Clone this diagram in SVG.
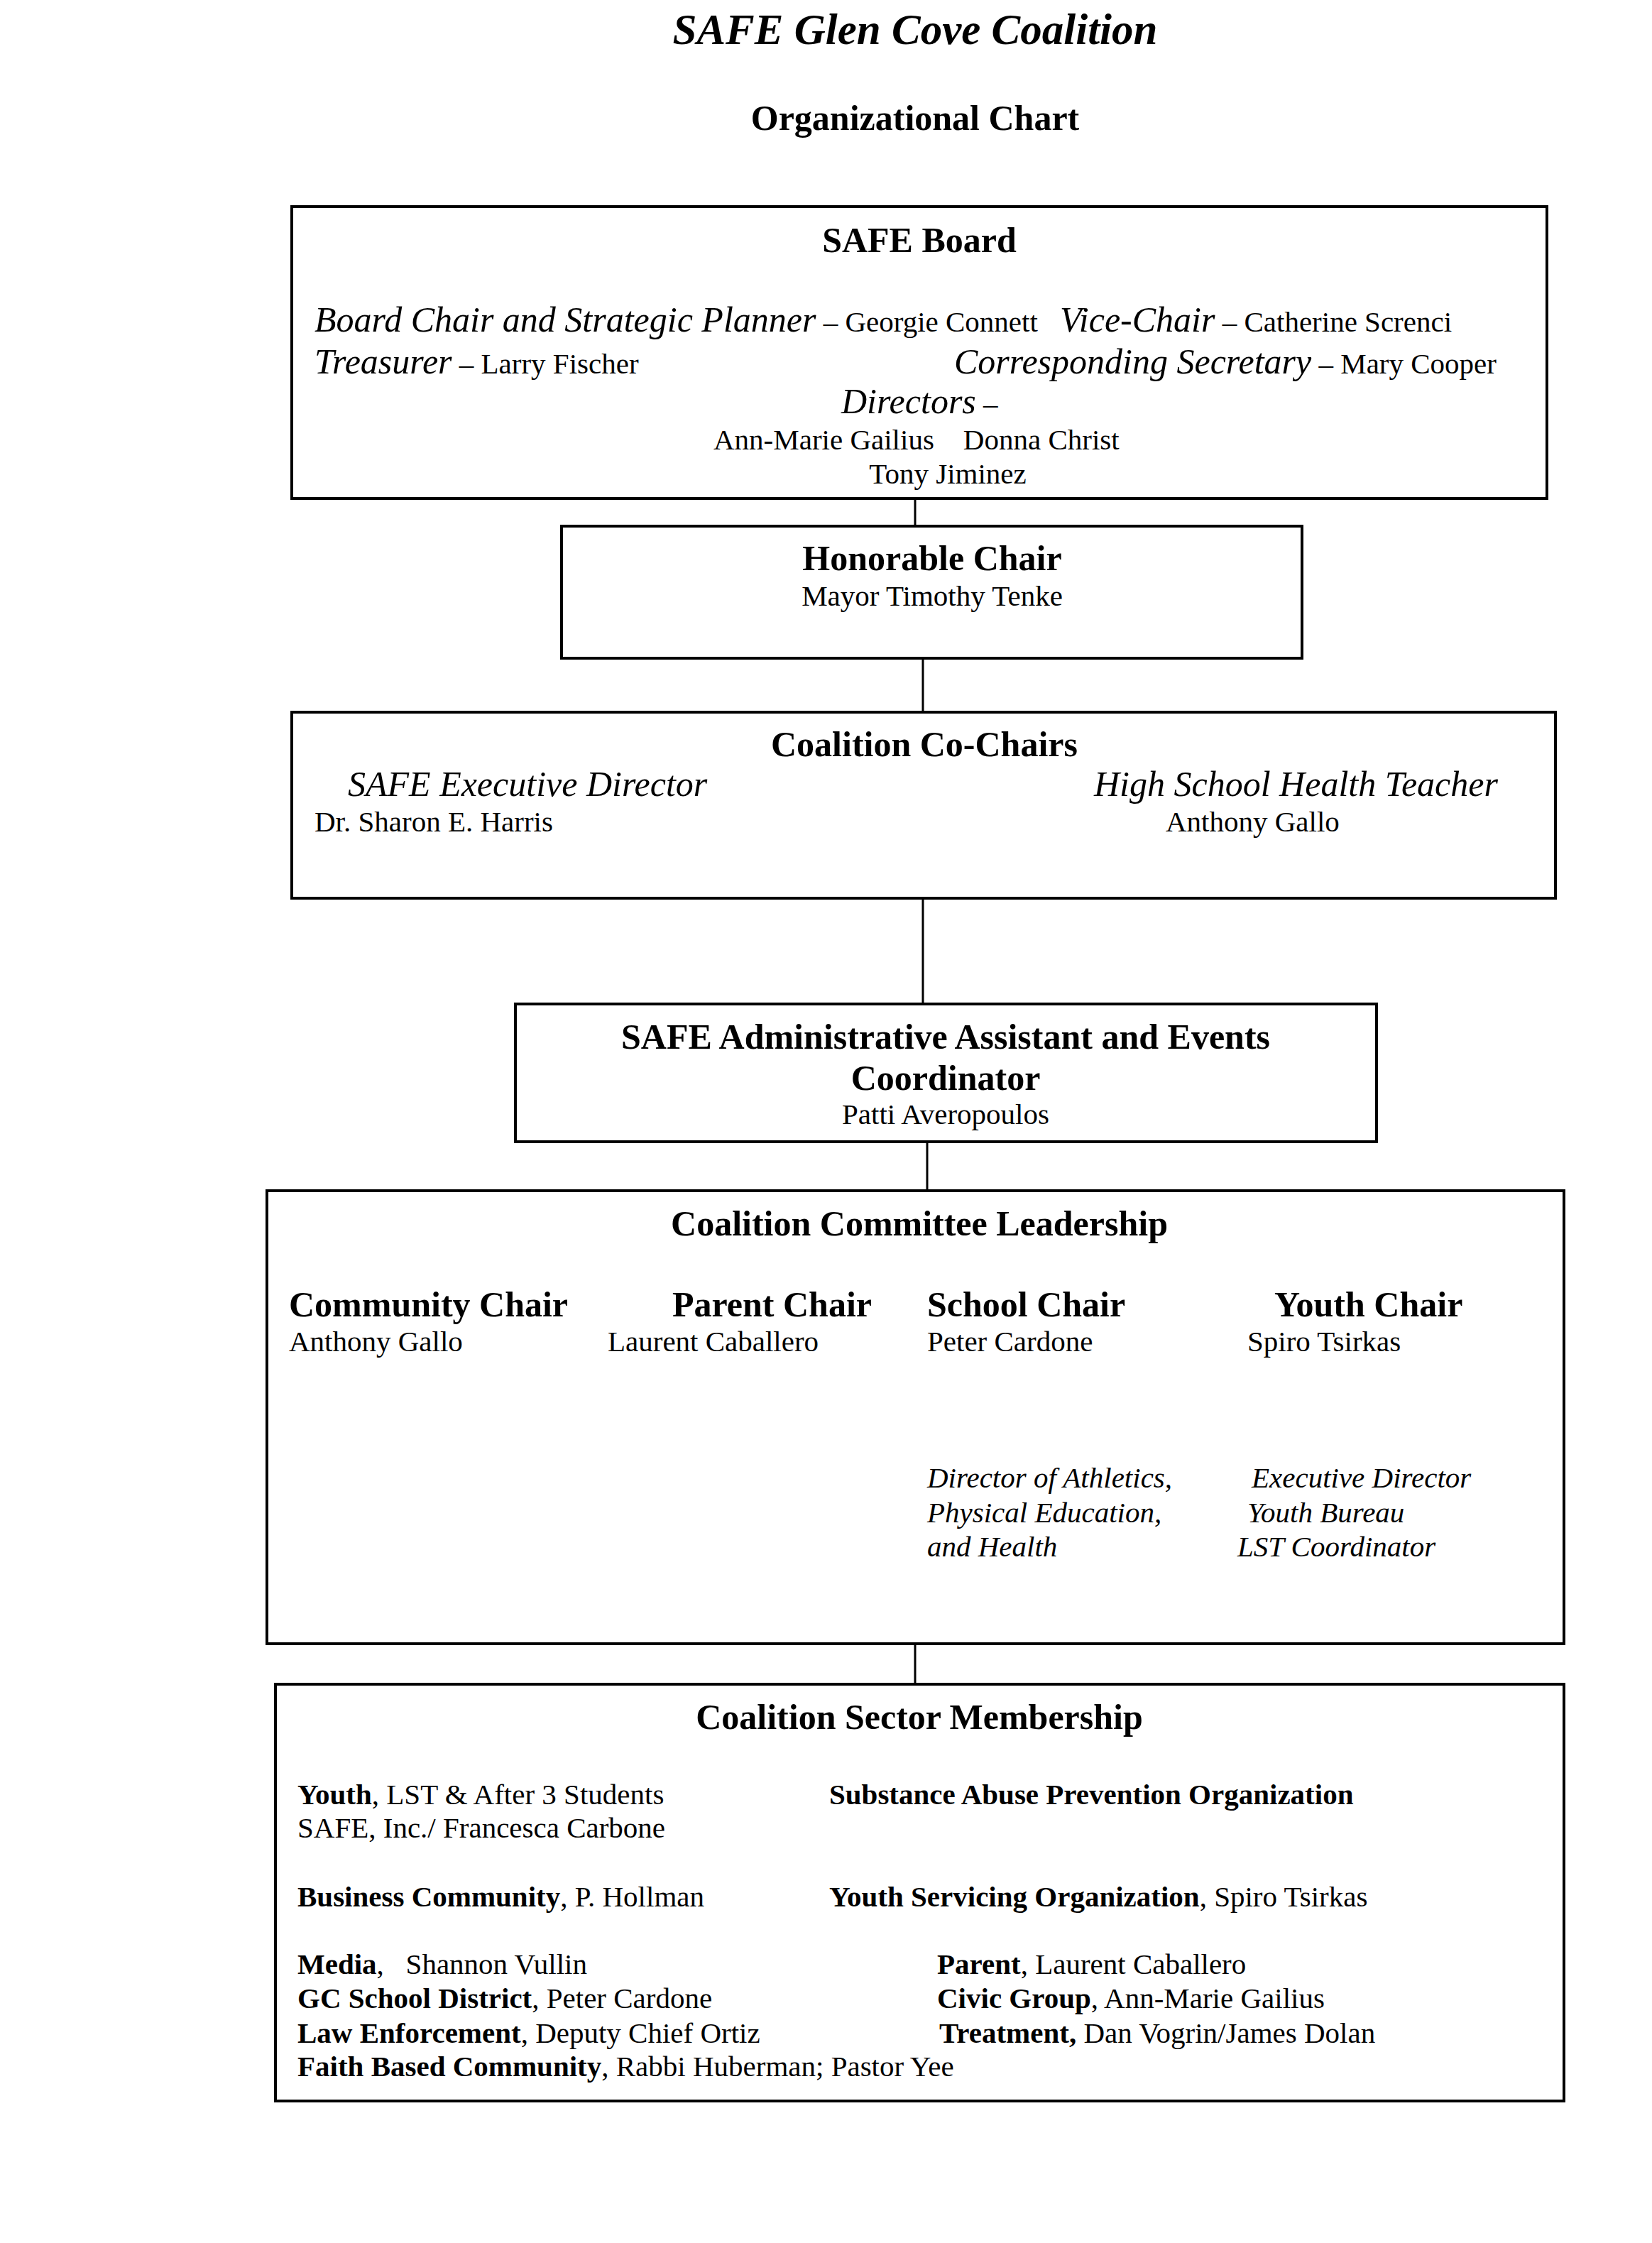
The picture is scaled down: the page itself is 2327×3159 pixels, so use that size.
<svg xmlns="http://www.w3.org/2000/svg" width="2327" height="3159" viewBox="0 0 2327 3159">
<style>
text{font-family:"Liberation Serif","Times New Roman",serif;fill:#000}
.t{font-size:61px;font-weight:bold;font-style:italic}
.h{font-size:50px;font-weight:bold}
.i{font-size:50px;font-style:italic}
.r{font-size:41px}
.ri{font-size:41px;font-style:italic}
.b{font-weight:bold}
.c{text-anchor:middle}
.box{fill:#fff;stroke:#000;stroke-width:4}
.conn{stroke:#000;stroke-width:3;fill:none}
</style>
<rect width="2327" height="3159" fill="#fff"/>
<g id="title">
<text class="t c" x="1289" y="62">SAFE Glen Cove Coalition</text>
<text class="h c" x="1289" y="183">Organizational Chart</text>
</g>
<g id="connectors">
<line class="conn" x1="1289" y1="702" x2="1289" y2="741"/>
<line class="conn" x1="1300" y1="927" x2="1300" y2="1003"/>
<line class="conn" x1="1300" y1="1265" x2="1300" y2="1414"/>
<line class="conn" x1="1306" y1="1608" x2="1306" y2="1677"/>
<line class="conn" x1="1289" y1="2315" x2="1289" y2="2372"/>
</g>
<g id="safe-board">
<rect class="box" x="411" y="291" width="1768" height="411"/>
<text class="h c" x="1295" y="355">SAFE Board</text>
<text x="443" y="467"><tspan class="i">Board Chair and Strategic Planner</tspan><tspan class="r"> – Georgie Connett</tspan></text>
<text x="1493" y="467"><tspan class="i">Vice-Chair</tspan><tspan class="r"> – Catherine Screnci</tspan></text>
<text x="443" y="526"><tspan class="i">Treasurer</tspan><tspan class="r"> – Larry Fischer</tspan></text>
<text x="1344" y="526"><tspan class="i">Corresponding Secretary</tspan><tspan class="r"> – Mary Cooper</tspan></text>
<text x="1185" y="582"><tspan class="i">Directors</tspan><tspan class="r"> –</tspan></text>
<text class="r" x="1005" y="633" xml:space="preserve">Ann-Marie Gailius    Donna Christ</text>
<text class="r c" x="1335" y="681">Tony Jiminez</text>
</g>
<g id="honorable-chair">
<rect class="box" x="791" y="741" width="1043" height="186"/>
<text class="h c" x="1313" y="803">Honorable Chair</text>
<text class="r c" x="1313" y="853">Mayor Timothy Tenke</text>
</g>
<g id="co-chairs">
<rect class="box" x="411" y="1003" width="1780" height="262"/>
<text class="h c" x="1302" y="1065">Coalition Co-Chairs</text>
<text class="i" x="490" y="1121">SAFE Executive Director</text>
<text class="i" x="1541" y="1121">High School Health Teacher</text>
<text class="r" x="443" y="1171">Dr. Sharon E. Harris</text>
<text class="r" x="1642" y="1171">Anthony Gallo</text>
</g>
<g id="admin-assistant">
<rect class="box" x="726" y="1414" width="1213" height="194"/>
<text class="h c" x="1332" y="1477">SAFE Administrative Assistant and Events</text>
<text class="h c" x="1332" y="1535">Coordinator</text>
<text class="r c" x="1332" y="1583">Patti Averopoulos</text>
</g>
<g id="committee-leadership">
<rect class="box" x="376" y="1677" width="1827" height="638"/>
<text class="h c" x="1295" y="1740">Coalition Committee Leadership</text>
<text class="h" x="407" y="1854">Community Chair</text>
<text class="h" x="947" y="1854">Parent Chair</text>
<text class="h" x="1306" y="1854">School Chair</text>
<text class="h" x="1795" y="1854">Youth Chair</text>
<text class="r" x="407" y="1903">Anthony Gallo</text>
<text class="r" x="856" y="1903">Laurent Caballero</text>
<text class="r" x="1306" y="1903">Peter Cardone</text>
<text class="r" x="1757" y="1903">Spiro Tsirkas</text>
<text class="ri" x="1306" y="2095">Director of Athletics,</text>
<text class="ri" x="1306" y="2144">Physical Education,</text>
<text class="ri" x="1306" y="2192">and Health</text>
<text class="ri" x="1763" y="2095">Executive Director</text>
<text class="ri" x="1757" y="2144">Youth Bureau</text>
<text class="ri" x="1743" y="2192">LST Coordinator</text>
</g>
<g id="sector-membership">
<rect class="box" x="388" y="2372" width="1815" height="587"/>
<text class="h c" x="1295" y="2435">Coalition Sector Membership</text>
<text class="r" x="419" y="2541"><tspan class="b">Youth</tspan>, LST &amp; After 3 Students</text>
<text class="r b" x="1168" y="2541">Substance Abuse Prevention Organization</text>
<text class="r" x="419" y="2588">SAFE, Inc./ Francesca Carbone</text>
<text class="r" x="419" y="2685"><tspan class="b">Business Community</tspan>, P. Hollman</text>
<text class="r" x="1168" y="2685"><tspan class="b">Youth Servicing Organization</tspan>, Spiro Tsirkas</text>
<text class="r" x="419" y="2780" xml:space="preserve"><tspan class="b">Media</tspan>,   Shannon Vullin</text>
<text class="r" x="1320" y="2780"><tspan class="b">Parent</tspan>, Laurent Caballero</text>
<text class="r" x="419" y="2828"><tspan class="b">GC School District</tspan>, Peter Cardone</text>
<text class="r" x="1320" y="2828"><tspan class="b">Civic Group</tspan>, Ann-Marie Gailius</text>
<text class="r" x="419" y="2877"><tspan class="b">Law Enforcement</tspan>, Deputy Chief Ortiz</text>
<text class="r" x="1323" y="2877"><tspan class="b">Treatment,</tspan> Dan Vogrin/James Dolan</text>
<text class="r" x="419" y="2924"><tspan class="b">Faith Based Community</tspan>, Rabbi Huberman; Pastor Yee</text>
</g>
</svg>
